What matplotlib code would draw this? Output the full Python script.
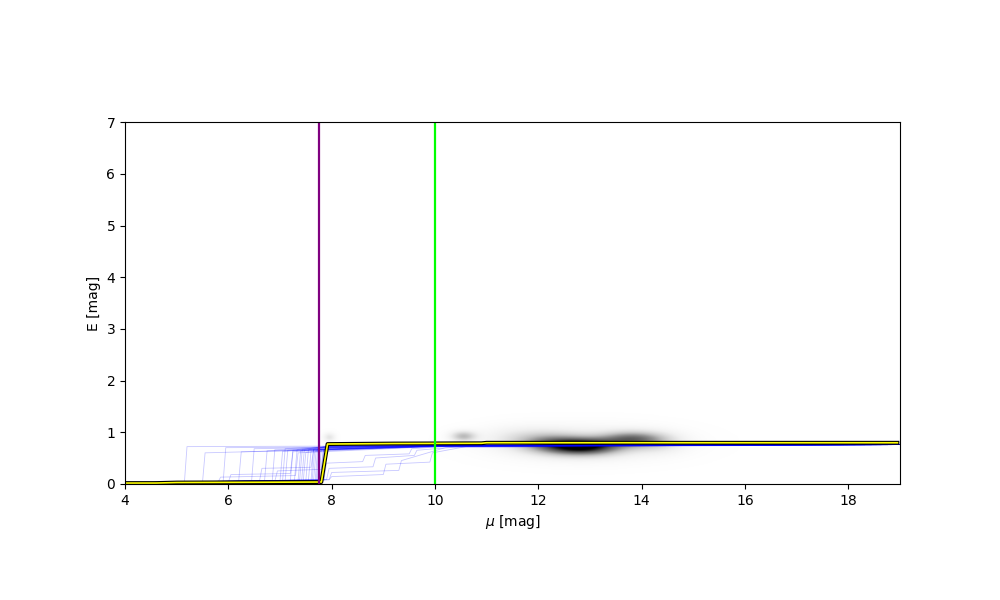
import numpy as np
import matplotlib
matplotlib.use("Agg")
import matplotlib.pyplot as plt
import matplotlib.patheffects as pe

# axis ranges
mu_range = (4.0, 19.0)
E_range = (0.0, 7.0)

# vertical marker lines
purple_mu = 7.76
green_mu = 10.0

# median reddening profile (mu, E)
median_mu = [4.0, 4.6, 5.0, 6.5, 7.80, 7.92, 9.2, 10.9, 11.0, 18.95]
median_E = [0.015, 0.015, 0.025, 0.03, 0.035, 0.77, 0.78, 0.785, 0.795, 0.795]

# sampled reddening profiles: each is (mu knots, E knots)
samples = [
    ([4.0, 5.15, 5.20, 7.9, 10.0, 19.0], [0.02, 0.03, 0.72, 0.73, 0.75, 0.76]),
    ([4.0, 5.5, 5.55, 7.9, 10.0, 19.0], [0.02, 0.03, 0.60, 0.66, 0.72, 0.76]),
    ([4.0, 5.9, 5.95, 7.9, 10.0, 19.0], [0.02, 0.04, 0.70, 0.71, 0.74, 0.76]),
    ([4.0, 6.2, 6.25, 7.9, 10.0, 19.0], [0.02, 0.05, 0.62, 0.66, 0.72, 0.76]),
    ([4.0, 6.0, 6.05, 7.2, 7.25, 10.0, 19.0], [0.02, 0.03, 0.18, 0.20, 0.65, 0.73, 0.76]),
    ([4.0, 6.45, 6.5, 7.9, 10.0, 19.0], [0.02, 0.05, 0.68, 0.70, 0.73, 0.76]),
    ([4.0, 6.7, 6.75, 7.9, 10.0, 19.0], [0.02, 0.05, 0.64, 0.68, 0.73, 0.76]),
    ([4.0, 6.85, 6.9, 7.9, 10.0, 19.0], [0.02, 0.06, 0.66, 0.70, 0.73, 0.76]),
    ([4.0, 7.0, 7.05, 7.9, 10.0, 19.0], [0.02, 0.05, 0.63, 0.67, 0.73, 0.76]),
    ([4.0, 7.1, 7.15, 7.9, 10.0, 19.0], [0.02, 0.06, 0.65, 0.71, 0.74, 0.76]),
    ([4.0, 7.2, 7.25, 7.9, 10.0, 19.0], [0.02, 0.06, 0.62, 0.66, 0.73, 0.76]),
    ([4.0, 7.28, 7.33, 7.9, 10.0, 19.0], [0.02, 0.07, 0.66, 0.72, 0.74, 0.76]),
    ([4.0, 7.35, 7.4, 7.9, 10.0, 19.0], [0.02, 0.06, 0.64, 0.67, 0.73, 0.76]),
    ([4.0, 7.42, 7.47, 7.9, 10.0, 19.0], [0.02, 0.07, 0.65, 0.70, 0.74, 0.76]),
    ([4.0, 7.5, 7.55, 7.9, 10.0, 19.0], [0.02, 0.06, 0.66, 0.72, 0.74, 0.76]),
    ([4.0, 7.55, 7.6, 7.9, 10.0, 19.0], [0.02, 0.07, 0.63, 0.67, 0.73, 0.76]),
    ([4.0, 7.6, 7.65, 7.9, 10.0, 19.0], [0.02, 0.06, 0.67, 0.71, 0.74, 0.76]),
    ([4.0, 7.65, 7.7, 7.9, 10.0, 19.0], [0.02, 0.07, 0.65, 0.68, 0.74, 0.76]),
    ([4.0, 7.7, 7.75, 7.9, 10.0, 19.0], [0.02, 0.06, 0.66, 0.72, 0.74, 0.76]),
    ([4.0, 7.75, 7.8, 7.9, 10.0, 19.0], [0.02, 0.07, 0.67, 0.69, 0.74, 0.76]),
    ([4.0, 7.8, 7.85, 8.0, 10.0, 19.0], [0.02, 0.07, 0.66, 0.73, 0.75, 0.76]),
    ([4.0, 7.85, 7.9, 8.0, 10.0, 19.0], [0.02, 0.06, 0.67, 0.70, 0.74, 0.76]),
    ([4.0, 7.45, 7.5, 7.9, 10.0, 19.0], [0.02, 0.05, 0.61, 0.65, 0.72, 0.76]),
    ([4.0, 7.05, 7.1, 7.9, 10.0, 19.0], [0.02, 0.06, 0.68, 0.72, 0.74, 0.76]),
    ([4.0, 7.62, 7.67, 7.9, 10.0, 19.0], [0.02, 0.05, 0.62, 0.64, 0.73, 0.76]),
    ([4.0, 7.72, 7.77, 7.9, 10.0, 19.0], [0.02, 0.06, 0.63, 0.66, 0.73, 0.76]),
    ([4.0, 7.38, 7.43, 7.9, 10.0, 19.0], [0.02, 0.07, 0.66, 0.73, 0.75, 0.76]),
    ([4.0, 7.68, 7.73, 7.9, 10.0, 19.0], [0.02, 0.06, 0.68, 0.73, 0.75, 0.76]),
    ([4.0, 7.78, 7.83, 7.9, 10.0, 19.0], [0.02, 0.08, 0.62, 0.70, 0.74, 0.76]),
    ([4.0, 6.6, 6.65, 7.6, 7.65, 10.0, 19.0], [0.02, 0.04, 0.30, 0.32, 0.66, 0.73, 0.76]),
    ([4.0, 6.9, 6.95, 7.8, 7.85, 10.0, 19.0], [0.02, 0.05, 0.25, 0.28, 0.67, 0.74, 0.76]),
    ([4.0, 7.95, 8.0, 9.3, 9.35, 10.2, 19.0], [0.02, 0.08, 0.22, 0.26, 0.45, 0.70, 0.76]),
    ([4.0, 7.9, 7.95, 8.8, 8.85, 9.6, 9.65, 10.5, 19.0], [0.02, 0.08, 0.30, 0.33, 0.50, 0.55, 0.65, 0.72, 0.76]),
    ([4.0, 7.95, 8.0, 9.0, 9.05, 9.9, 9.95, 10.6, 19.0], [0.02, 0.08, 0.14, 0.18, 0.38, 0.42, 0.60, 0.72, 0.76]),
    ([4.0, 5.8, 5.85, 7.3, 7.35, 10.0, 19.0], [0.02, 0.03, 0.13, 0.16, 0.60, 0.72, 0.76]),
    ([4.0, 7.85, 7.9, 8.6, 8.65, 9.5, 9.55, 10.3, 19.0], [0.02, 0.08, 0.40, 0.43, 0.55, 0.58, 0.68, 0.73, 0.76]),
]

# density blobs for background image: (mu0, E0, sigma_mu, sigma_E, amplitude)
blob_mu = [12.85, 13.8, 12.2, 12.9, 10.55, 7.95, 11.6, 14.3]
blob_E = [0.72, 0.87, 0.80, 0.78, 0.92, 0.90, 0.90, 0.80]
blob_smu = [0.50, 0.40, 0.45, 1.10, 0.17, 0.08, 0.50, 0.35]
blob_sE = [0.11, 0.10, 0.13, 0.22, 0.07, 0.06, 0.15, 0.13]
blob_amp = [1.0, 0.55, 0.35, 0.18, 0.40, 0.20, 0.10, 0.20]

fig = plt.figure(figsize=(10, 6), dpi=100)
ax = fig.add_subplot(111)

mg = np.linspace(mu_range[0], mu_range[1], 600)
eg = np.linspace(E_range[0], E_range[1], 700)
M, EE = np.meshgrid(mg, eg)
dens = np.zeros_like(M)
for m0, e0, sm, se, a in zip(blob_mu, blob_E, blob_smu, blob_sE, blob_amp):
    dens += a * np.exp(-0.5 * (((M - m0) / sm) ** 2 + ((EE - e0) / se) ** 2))
ax.imshow(dens, origin="lower", cmap="Greys", extent=(mu_range[0], mu_range[1], E_range[0], E_range[1]),
          vmin=0, vmax=1.1, interpolation="bilinear")

for xs, ys in samples:
    ax.plot(xs, ys, color="blue", lw=0.6, alpha=0.22)

ax.plot(median_mu, median_E, color="yellow", lw=1.2,
        path_effects=[pe.Stroke(linewidth=2.8, foreground="black"), pe.Normal()])

ax.axvline(purple_mu, color="purple", lw=1.6)
ax.axvline(green_mu, color="lime", lw=1.6)

ax.set_xlim(*mu_range)
ax.set_ylim(*E_range)
ax.set_aspect("equal")
ax.set_xlabel(r"$\mu$ [mag]")
ax.set_ylabel("E [mag]")

fig.savefig("out.png", dpi=100)
